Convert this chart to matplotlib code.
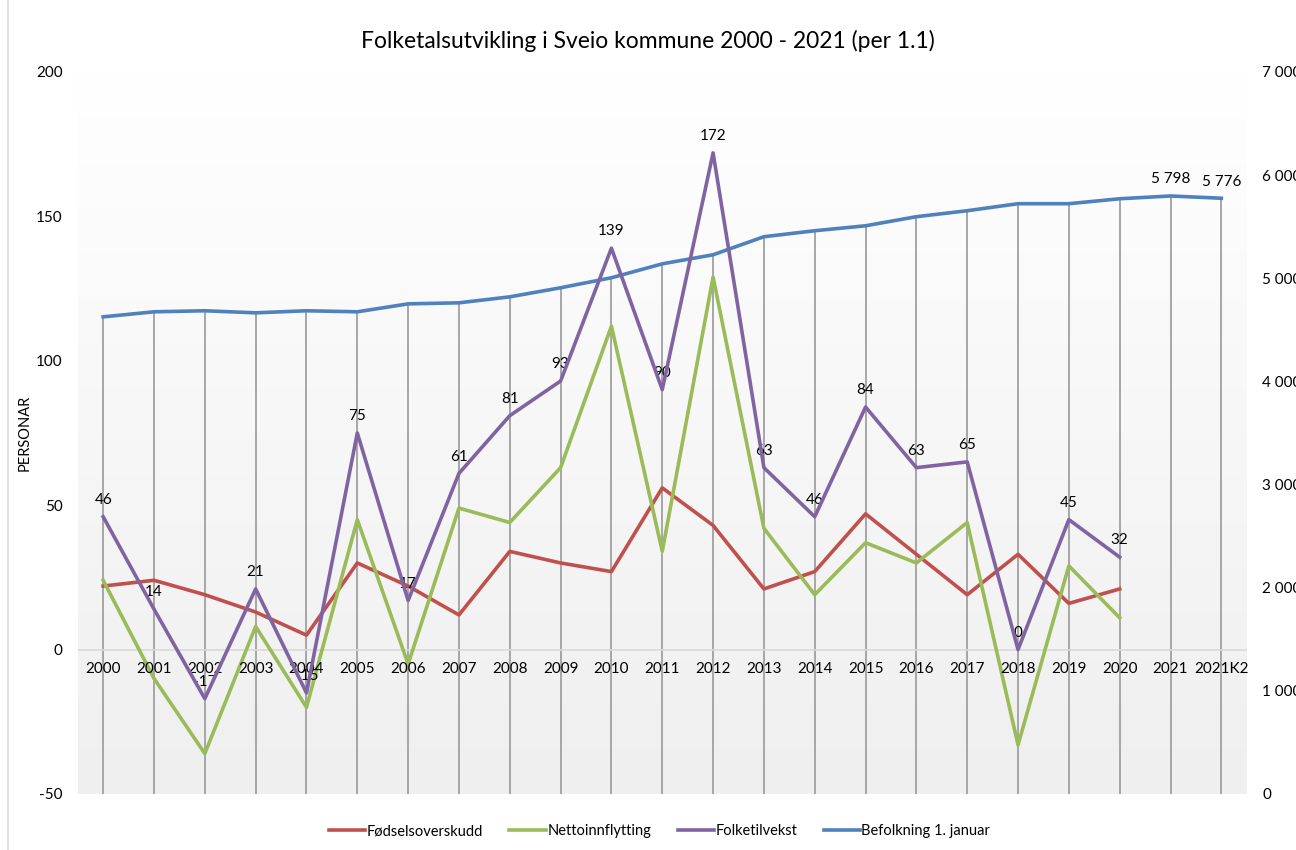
import numpy as np
import matplotlib
matplotlib.use('Agg')
import matplotlib.pyplot as plt
from matplotlib.colors import LinearSegmentedColormap
from matplotlib.lines import Line2D

plt.rcParams['font.family'] = ['Lato', 'DejaVu Sans']
plt.rcParams['axes.unicode_minus'] = False

# Data
years = ['2000', '2001', '2002', '2003', '2004', '2005', '2006', '2007', '2008', '2009', '2010',
         '2011', '2012', '2013', '2014', '2015', '2016', '2017', '2018', '2019', '2020', '2021', '2021K2']
fodselsoverskudd = [22, 24, 19, 13, 5, 30, 22, 12, 34, 30, 27, 56, 43, 21, 27, 47, 33, 19, 33, 16, 21]
nettoinnflytting = [24, -10, -36, 8, -20, 45, -5, 49, 44, 63, 112, 34, 129, 42, 19, 37, 30, 44, -33, 29, 11]
folketilvekst = [46, 14, -17, 21, -15, 75, 17, 61, 81, 93, 139, 90, 172, 63, 46, 84, 63, 65, 0, 45, 32]
befolkning = [4626, 4675, 4685, 4665, 4685, 4675, 4752, 4762, 4820, 4908, 5005,
              5140, 5228, 5403, 5461, 5509, 5597, 5655, 5723, 5723, 5771, 5798, 5776]
# only the last two population points carry a label
befolkning_labels = {21: '5 798', 22: '5 776'}

c_red = '#C0504D'
c_green = '#9BBB59'
c_purple = '#8064A2'
c_blue = '#4F81BD'

fig = plt.figure(figsize=(12.96, 8.5), dpi=100)
ax = fig.add_axes([0.060, 0.0659, 0.902, 0.8494])   # population axis (right scale)
ax2 = ax.twinx()                                      # persons axis (left scale)

x = np.arange(len(years))
x_short = np.arange(len(folketilvekst))

# Background gradient of the plot area
cmap = LinearSegmentedColormap.from_list('bg', ['#ffffff', '#efefef'])
grad = np.linspace(0, 1, 256).reshape(-1, 1)
ax.imshow(grad, extent=[0, 1, 0, 1], transform=ax.transAxes, aspect='auto', cmap=cmap, zorder=0)

# Drop lines from the population line to the bottom
ax.vlines(x, 0, befolkning, color='#a6a6a6', linewidth=1.4, zorder=1)
ax.plot(x, befolkning, color=c_blue, linewidth=2.6, zorder=3, label='Befolkning 1. januar')
for i, txt in befolkning_labels.items():
    ax.annotate(txt, (x[i], befolkning[i]), xytext=(0, 7), textcoords='offset points',
                ha='center', va='bottom', fontsize=11)

# Zero line on the persons axis
ax2.axhline(0, color='#d9d9d9', linewidth=1.2, zorder=1)
ax2.plot(x_short, fodselsoverskudd, color=c_red, linewidth=2.6, zorder=3, label='Fødselsoverskudd')
ax2.plot(x_short, nettoinnflytting, color=c_green, linewidth=2.6, zorder=3, label='Nettoinnflytting')
ax2.plot(x_short, folketilvekst, color=c_purple, linewidth=2.6, zorder=4, label='Folketilvekst')
for i, v in enumerate(folketilvekst):
    ax2.annotate(str(v), (x_short[i], v), xytext=(0, 7), textcoords='offset points',
                 ha='center', va='bottom', fontsize=11)

# Category labels sit just under the zero line
for i, lab in enumerate(years):
    ax2.annotate(lab, (x[i], 0), xytext=(0, -9), textcoords='offset points',
                 ha='center', va='top', fontsize=11)

ax.set_xlim(-0.5, len(years) - 0.5)
ax.set_ylim(0, 7000)
ax2.set_ylim(-50, 200)
ax.set_xticks([])

ax.yaxis.tick_right()
ax2.yaxis.tick_left()
ax.set_yticks(np.arange(0, 7001, 1000))
ax.set_yticklabels(['0', '1 000', '2 000', '3 000', '4 000', '5 000', '6 000', '7 000'])
ax2.set_yticks(np.arange(-50, 201, 50))
ax.tick_params(axis='y', length=0, pad=11, labelsize=11)
ax2.tick_params(axis='y', length=0, pad=11, labelsize=11)
ax2.yaxis.set_label_position('left')
ax2.set_ylabel('PERSONAR', fontsize=10.5, labelpad=3)

for a in (ax, ax2):
    for s in a.spines.values():
        s.set_visible(False)

fig.suptitle('Folketalsutvikling i Sveio kommune 2000 - 2021 (per 1.1)', y=0.965, fontsize=16.5)

# Legend at the bottom
h1, l1 = ax2.get_legend_handles_labels()
h2, l2 = ax.get_legend_handles_labels()
fig.legend(h1 + h2, l1 + l2, loc='center', bbox_to_anchor=(0.509, 0.022), ncol=4, frameon=False,
           fontsize=10.5, handlelength=2.5, handletextpad=0.1, columnspacing=1.8)

# Chart border on the left
fig.add_artist(Line2D([0.0065, 0.0065], [0, 1], color='#d9d9d9', linewidth=1.2))

plt.savefig('out.png', dpi=100)
